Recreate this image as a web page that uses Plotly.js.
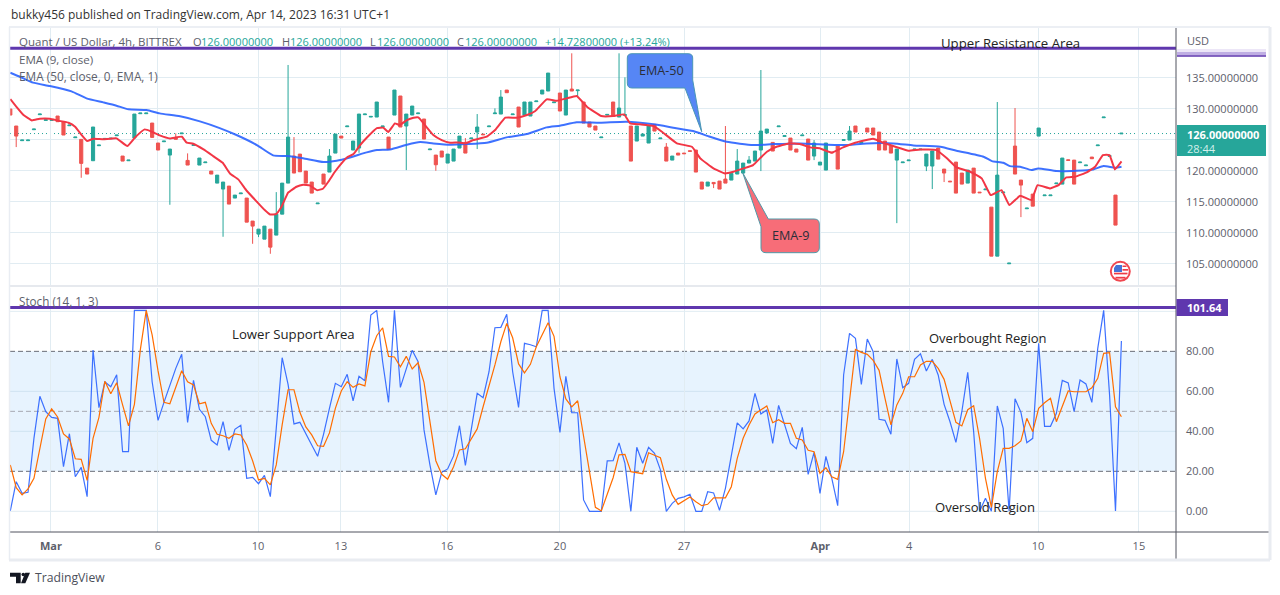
<!DOCTYPE html>
<html><head><meta charset="utf-8">
<script src="https://cdn.plot.ly/plotly-3.0.1.min.js"></script>
<style>html,body{margin:0;padding:0;background:#fff}#c{width:1280px;height:595px}</style>
</head><body><div id="c"></div>
<script>
const open=[129.95,127.21,124.85,124.85,126.62,129.04,128.12,128.12,128.82,127.91,
127.26,125.33,125.06,120.43,121.62,124.04,125.11,125.15,125.65,122.37,
121.62,125.27,129.2,129.2,127.69,124.47,124.68,122.53,125.38,125.97,
121.67,124.09,120.92,121.3,119.95,118.01,117.05,117.53,115.6,116.3,
115.6,111.89,109.79,108.98,110.59,109.63,113.01,118.01,122.37,122.69,
119.95,118.18,114.68,119.47,119.79,122.85,125.59,127.1,123.34,123.66,
129.04,128.66,128.66,127.1,125.43,128.98,132.05,127.21,128.98,129.2,
128.34,123.39,122.53,123.18,121.24,121.56,123.66,124.57,125.17,126.24,
125.91,127.1,129.2,129.14,133.01,129.04,130.27,128.98,128.82,131.14,
132.37,132.85,130.97,132.53,128.98,133.17,132.91,131.08,127.85,127.21,
125.33,128.98,131.08,128.66,128.93,127.21,124.79,125.59,124.47,127.48,
125.17,123.82,121.72,122.85,122.85,123.23,123.34,118.18,117.53,118.12,
118.34,118.66,118.5,119.47,119.63,121.24,121.56,123.34,126.08,124.57,
127.1,125.54,125.27,123.5,125.65,125.11,122.37,120.92,120.11,123.01,
123.98,124.9,124.95,127.21,124.47,126.89,126.89,126.24,124.79,123.98,
121.72,121.3,121.62,123.39,123.39,120.76,120.76,123.66,120.27,118.33,
121.4,119.63,118.01,120.43,116.56,116.94,114.14,106.24,116.46,105.01,
123.98,118.5,113.88,116.24,125.59,115.98,115.98,117.91,117.85,121.77,
121.72,121.3,120.81,122.21,124.04,128.55,122.32,116.08,125.95];
const close=[128.98,125.59,124.95,124.95,126.72,129.14,128.22,128.22,127.91,125.76,
127.36,125.43,121.19,119.47,127.05,124.14,125.21,125.25,125.75,121.56,
121.72,129.14,129.3,129.3,125.38,123.34,124.78,123.5,125.06,126.07,
120.92,124.19,122.05,121.4,119.47,119.3,118.18,114.63,116.08,116.4,
111.72,111.08,110.59,111.08,107.69,113.01,118.01,125.43,119.63,119.84,
118.01,116.4,114.78,117.85,122.37,125.92,125.27,127.2,124.79,129.14,
129.14,128.76,131.08,127.2,123.44,133.01,127.05,129.14,130.43,129.3,
125.11,123.49,120.97,122.21,122.69,123.5,125.59,122.85,125.27,127.05,
125.81,127.2,129.3,131.88,132.58,129.14,127.05,131.08,131.08,131.24,
133.01,135.75,131.07,129.63,133.01,132.85,133.01,127.69,127.05,126.56,
125.43,129.08,128.82,130.11,129.03,121.56,127.21,125.92,127.21,126.4,
125.27,121.56,122.37,122.53,122.75,123.13,119.79,117.05,118.18,117.91,
117.05,118.01,119.57,121.56,121.24,121.72,123.18,126.4,126.72,123.18,
127.2,125.64,123.34,123.01,125.75,121.72,124.47,121.4,124.47,122.91,
120.27,125,126.4,126.24,124.57,126.24,125.76,123.34,123.34,122.85,
123.5,121.4,121.72,123.49,123.49,122.69,123.18,121.88,119.63,118.23,
116.4,117.85,120.11,116.4,116.46,117.04,106.24,119.3,116.56,105.11,
119.47,117.69,113.98,114.3,126.89,116.08,116.08,118.01,122.05,121.67,
117.85,121.4,120.91,121.94,124.14,128.65,122.42,111.24,126.05];
const upperWicks={28:126.02,30:122.8,45:116.56,47:137.05,48:125.43,54:123.5,77:125.27,79:129.14,82:130.06,83:133.01,95:138.93,103:138.93,104:135.06,111:124.47,121:127.21,123:123.5,125:122.37,127:136.24,136:124.95,142:127.21,167:131.08,170:130.11};
const lowerWicks={1:123.82,12:118.87,27:114.52,36:109.36,41:108.23,42:109.31,44:106.62,59:122.9,67:120.11,72:120,79:123.5,96:132.05,119:117.21,127:119.95,136:121.72,150:111.56,155:119.95,156:117.05,158:118.18,171:112.53};

const ema9Slot=[0,1.1,2.2,3.6,4.9,6.6,8,9.7,10.8,11.9,12.8,13.8,15.5,17.7,19.5,20.8,22.4,23.6,24.9,26.6,28.6,29.4,30.5,32.2,33.8,35.4,36.6,38,39.4,41.1,42.4,43.3,44.3,45.2,46.3,47.7,48.8,49.9,51.1,52.1,53,54.1,55.2,56.1,57.2,58.3,59.4,61.1,62.2,63,64.1,64.9,66.1,67.2,68,69.1,70.5,71.9,73.3,74.7,75.8,77.2,79.4,80.8,82.5,84.4,86.1,87.5,89.4,91.1,92.7,94.4,96.1,98.5,100.5,102.3,103.3,104.95,107.2,108.6,111.1,113.6,115,117.2,119.1,120.5,122.2,123.8,124.95,126.1,127.7,129.7,131.6,133.3,135,136.9,138.8,140.8,143.8,145.5,147.5,149.7,151.6,154.4,156.1,157.7,160,161.9,163.4,165.2,166.5,168.3,170.2,171.2,173.3,174.7,176,177.5,179.4,180.8,182.1,183.2,184.1,185.2];
const ema9=[131.56,130.22,128.98,128.12,128.39,128.39,128.07,127.74,127.1,125.76,124.79,125.16,125.06,125.22,123.98,125.38,126.67,126.29,125.7,125.22,125.49,124.52,124.36,123.44,122.37,121.29,119.57,118.61,116.78,115,113.66,112.96,113.02,114.2,116.46,117.42,117.74,117.64,116.88,117.1,118.23,119.84,121.19,122.15,122.69,124.14,125.33,126.88,126.94,126.24,127.64,127.37,128.17,128.55,128.6,127.37,125.76,124.95,124.52,124.57,124.41,124.95,125.49,126.56,128.55,128.55,128.98,129.63,131.51,131.29,131.67,132.05,130.32,128.82,128.82,129.09,127.64,127.48,127.21,126.29,124.41,123.87,122,120.38,119.57,119.84,120.38,120.92,122,123.07,123.87,124.41,124.3,123.77,123.6,122.91,123.77,124.52,125.16,124.52,123.87,123.23,123.44,123.33,122,120.54,119.84,118.77,116.08,116.88,114.47,115.97,115.27,117.69,117.15,117.69,118.93,119.04,119.73,120.65,122.53,122.53,120.22,121.51];
const ema50Slot=[0,1.6,3.8,6.6,10.2,12.7,15.5,17.7,19.7,22.7,24.9,28.3,31.6,34.9,37.7,41.1,43.8,46.1,48.8,52.2,54.4,56.6,59.4,61.1,63.3,66.1,68.3,70.5,73.3,76.1,79.4,82.7,86.1,89.4,91.6,94.4,98.3,102.7,107.2,110.5,113.8,116.6,119.4,123.8,127.2,131.6,138.8,142.7,147.2,150.5,155,157.7,162.2,163.6,165.5,166.6,168.3,170.2,171.3,174.4,177.7,180.5,182.2,184.1,185.2];
const ema50=[135.81,135.16,134.2,133.66,132.8,131.67,131.02,130.49,129.9,129.79,129.25,128.77,127.96,126.88,125.76,124.14,122.48,122.37,122,121.4,121.62,122.15,122.96,123.34,123.44,124.2,124.63,124.41,124.2,124.3,124.52,125.38,125.92,126.99,127.26,127.8,127.74,127.91,127.48,126.94,126.4,125.49,124.68,124.14,124.3,124.41,124.14,124.41,124.41,124.09,123.87,123.23,122.26,121.56,121.29,120.75,120.65,120.11,120.38,119.95,120,120.22,120.76,120.49,120.65];

const stochK=[0.2,14.8,9,9.5,36.5,57.5,49.8,47,46.5,22.3,
38.8,17.3,22,7.3,80.7,51.8,64.8,62.3,68.3,29.8,
29.8,100.5,100.5,100.5,64.8,45.5,54.5,63.2,71.5,78.5,
44.5,65.5,51,47.3,35.5,33.2,44.8,30.5,41,43,
16.5,17,13.8,18,7.3,41.5,76.8,63.5,43.7,44.5,
38.5,33.2,27.5,38.5,51.5,64,62.3,68.5,55.2,67.5,
65.3,98.2,100.5,74.8,54.5,100.5,62,71.5,80.5,74.8,
40.7,23.2,8.2,19.5,21.2,27.7,42.8,23,41.5,59,
56.8,69.8,91.8,92,98.5,69.8,52,84,83.3,82.3,
100.5,100.5,61.5,39.5,67.5,49.3,49.3,5.7,0,0,
0,25.2,25.3,34.2,24,0,32,24,32,29,
20.7,0,4,6.5,7.2,8.5,0,0,9.8,9.2,
0.5,11.5,28.2,44.2,41.2,45.2,59,48.7,50.7,34,
53,44,34,31.3,42,18.5,29.5,9,27.5,16.5,
2.8,68.2,89,86.5,63.5,86.2,79.8,46,45.5,38.5,
76.2,61.8,64,76,78.8,70.2,76,68.2,53.5,44.8,
34.5,49.8,69.5,39.8,0,6.5,0,52.7,41.5,0,
56.3,49.5,34.3,36.5,84,42.5,42.5,49,65.5,64.2,
49.8,65.7,63.7,54.5,81.5,100.5,58.2,0.2,85.2];
const stochD=[23.2,11.8,8.2,11.2,16.5,31.5,46.2,51.2,47.2,38.7,
36.2,26.3,26,15.5,36.5,47,65,58.8,64.3,53.2,
42.7,53.5,80.7,100.5,88.2,70.2,54.5,53.8,62.2,70.3,
64.8,63.2,53.8,54.5,44,38.5,37.8,36.5,38.7,38.2,
33.2,25.3,15.7,16.5,13.2,23.2,43.2,60.8,60.8,49.5,
42.2,38.2,32.8,32.5,39.2,51.5,60.2,64.8,62,63.7,
62.7,79.8,87.8,91.8,77.5,77.2,72.3,77.5,71.2,74.3,
64.5,44,25.3,18.5,16,22.3,30.7,31.3,36.2,41.2,
52.3,62.3,73.2,84.8,94,86.8,73.7,69.2,73.5,82.3,
88.2,94.3,87.5,67.3,56.2,52.2,55.3,36.5,19.8,2,
0.2,8.5,16.8,28.2,28.5,19.8,19.3,18.8,29.3,28,
26.8,16,8.2,3.5,5.5,7.2,4.8,2.8,3.5,6.7,
6.7,6.7,12.3,26.5,36.5,43.2,48.7,50.7,52.7,44.3,
45.8,44,44,36.5,35.7,30.5,29.8,19,21.8,17.3,
16,29.8,54.8,81,79.5,78.5,75.5,70.5,56.5,43.2,
53.2,59,67.3,67.3,73.2,75,75,71.5,66,55.7,
44.5,42.7,50.8,52.8,36.5,16.5,2,19.8,31.5,31.5,
32.8,35.2,46.5,39.8,51.5,54.3,56.5,44.8,52.3,60.2,
59.8,59.8,59.8,61.8,66.5,79,79.3,52.3,47.3];

const dateSlots=[6.78,24.6,41.3,55.1,72.8,91.6,112.3,135,149.8,171.3,188.1];
const dateLabels=['<b>Mar</b>','6','10','13','16','20','27','<b>Apr</b>','4','10','15'];
const priceTicks=[105,110,115,120,125,130,135];
const priceLabels=['105.00000000','110.00000000','115.00000000','120.00000000','','130.00000000','135.00000000'];
const stochTicks=[0,20,40,60,80,100];
const stochLabels=['0.00','20.00','40.00','60.00','80.00',''];
const stochGridLevels=[0,40,60,100];
const lastPrice=126, resistance=139.73, stochLevel=101.9;

const barStep=0.985, xMin=-0.05, xMax=194.28;
const barX=open.map((_,i)=>i*barStep);
const high=open.map((o,i)=>Math.max(o,close[i],upperWicks[i]??-Infinity));
const low=open.map((o,i)=>Math.min(o,close[i],lowerWicks[i]??Infinity));

const FONT='"Open Sans", sans-serif';
const GREY='#5d606b', PURPLE='#5f37ae', GRID='#e1ecf2', TEAL='#26a69a';
const fx=p=>(p-10)/1166, fy=p=>(532-p)/504;

const data=[
 {type:'candlestick',x:barX,open,high,low,close,xaxis:'x',yaxis:'y',whiskerwidth:0,
  increasing:{line:{color:TEAL,width:1},fillcolor:TEAL},
  decreasing:{line:{color:'#ef5350',width:1},fillcolor:'#ef5350'},hoverinfo:'skip',showlegend:false},
 {type:'scatter',mode:'lines',x:ema50Slot,y:ema50,xaxis:'x',yaxis:'y',line:{color:'#2962ff',width:2,shape:'spline',smoothing:0.5},opacity:.9,hoverinfo:'skip',showlegend:false},
 {type:'scatter',mode:'lines',x:ema9Slot,y:ema9,xaxis:'x',yaxis:'y',line:{color:'#f23645',width:2,shape:'spline',smoothing:0.3},hoverinfo:'skip',showlegend:false},
 {type:'scatter',mode:'lines',x:barX,y:stochK,xaxis:'x',yaxis:'y2',line:{color:'#2962ff',width:1.2},opacity:.9,hoverinfo:'skip',showlegend:false},
 {type:'scatter',mode:'lines',x:barX,y:stochD,xaxis:'x',yaxis:'y2',line:{color:'#ff6d00',width:1.2},hoverinfo:'skip',showlegend:false}
];

const rectPx=(x0,y0,x1,y1,fill,extra={})=>Object.assign({type:'rect',xref:'paper',yref:'paper',x0:fx(x0),x1:fx(x1),y0:fy(y0),y1:fy(y1),fillcolor:fill,line:{width:0},layer:'above'},extra);
const linePx=(x0,y0,x1,y1,color,width)=>({type:'line',xref:'paper',yref:'paper',x0:fx(x0),x1:fx(x1),y0:fy(y0),y1:fy(y1),line:{color,width},layer:'above'});
const pathPx=(pts,fill,lineColor,w=1)=>({type:'path',xref:'paper',yref:'paper',
  path:pts.map(s=>{const c=s[0];if(c==='Z')return 'Z';return c+' '+s.slice(1).map((v,i)=>i%2?fy(v):fx(v)).join(' ');}).join(' '),
  fillcolor:fill,line:{color:lineColor,width:w},layer:'above'});
const circlePx=(cx,cy,r,fill,lineColor,w)=>({type:'circle',xref:'paper',yref:'paper',x0:fx(cx-r),x1:fx(cx+r),y0:fy(cy+r),y1:fy(cy-r),fillcolor:fill,line:{color:lineColor,width:w},layer:'above'});

const shapes=[
 {type:'rect',xref:'paper',yref:'y2',x0:0,x1:1,y0:20,y1:80,fillcolor:'rgba(33,150,243,0.11)',line:{width:0},layer:'below'},
 ...stochGridLevels.map(v=>({type:'line',xref:'x',yref:'y2',x0:xMin,x1:xMax,y0:v,y1:v,line:{color:v===0||v===100?GRID:'#cfe3f1',width:1},layer:'below'})),
 ...[[80,'#6a6d78'],[20,'#6a6d78'],[50,'#a6a9b2']].map(([v,c])=>({type:'line',xref:'x',yref:'y2',x0:xMin,x1:xMax,y0:v,y1:v,line:{color:c,width:1,dash:'5px,3px'},layer:'below'})),
 {type:'line',xref:'x',yref:'y',x0:xMin,x1:xMax,y0:lastPrice,y1:lastPrice,line:{color:TEAL,width:1,dash:'1px,3px'},layer:'below'},
 {type:'line',xref:'paper',yref:'y',x0:0,x1:1,y0:resistance,y1:resistance,line:{color:PURPLE,width:3},layer:'above'},
 {type:'line',xref:'paper',yref:'y2',x0:0,x1:1,y0:stochLevel,y1:stochLevel,line:{color:PURPLE,width:3},layer:'above'},
 linePx(10,286,1176,286,'#e6e9ee',2),
 linePx(9,27,1270,27,'#eceff4',2),
 linePx(10,532,1270,532,'#50535e',1),
 linePx(1176,28,1176,560,'#50535e',1),
 linePx(9.5,27,9.5,560,'#e9edf3',1.5),
 linePx(1270,27,1270,560,'#e9ecf1',3),
 linePx(9,560,1270,560,'#e9ecf1',3),
 rectPx(1177,49,1266,52,'#ece6f7'),
 rectPx(1177,52,1266,55.5,'#bfaee3'),
 linePx(1177,56,1266,56,PURPLE,1.5),
 rectPx(1177,125,1266,156,TEAL),
 rectPx(1176.5,299,1228,316,PURPLE),
 pathPx([['M',632,53.7],['L',688,53.7],['Q',692.7,53.7,692.7,58],['L',692.7,80],['L',701.7,131.7],['L',685,88],['L',632,88],['Q',627.3,88,627.3,83],['L',627.3,58],['Q',627.3,53.7,632,53.7],['Z']],'#5686f5','#4a97b5'),
 pathPx([['M',742.7,172.7],['L',768.3,219],['L',814,219],['Q',819.3,219,819.3,224],['L',819.3,248],['Q',819.3,252.7,814,252.7],['L',766,252.7],['Q',761,252.7,761,248],['L',761,226.7],['Z']],'#f76d78','#4f9aa8'),
 circlePx(1120.3,271.3,9.5,'#ffffff','#f0474f',2),
 rectPx(1122.5,265.5,1126.5,267,'#ef3b45'),
 rectPx(1122.5,269,1128,270.7,'#ef3b45'),
 rectPx(1114,272.7,1127.5,274.4,'#ef3b45'),
 rectPx(1115.5,276.8,1125.5,278.6,'#ef3b45'),
 pathPx([['M',1116,265],['L',1122,265],['L',1122,272],['L',1114,272],['L',1114,268],['Z']],'#4473d6','#4473d6',0),
 pathPx([['M',10,572.7],['L',20.7,572.7],['L',20.7,583.3],['L',16,583.3],['L',16,576.7],['L',10,576.7],['Z']],'#131722','#131722',0),
 circlePx(23.3,574.5,1.8,'#131722','#131722',0),
 pathPx([['M',25.3,572.7],['L',30,572.7],['L',25.3,583.3],['L',21,583.3],['Z']],'#131722','#131722',0)
];

const t=(px,py,text,size,color,extra={})=>Object.assign({xref:'paper',yref:'paper',x:fx(px),y:fy(py),text,showarrow:false,xanchor:'left',yanchor:'middle',borderpad:0,align:'left',font:{family:FONT,size,color}},extra);
const annotations=[
 t(10,14,'bukky456 published on TradingView.com, Apr 14, 2023 16:31 UTC+1',12,'#333'),
 t(18,41.5,'Quant / US Dollar, 4h, BITTREX',11.5,GREY),
 t(192,41.5,'O',11,GREY),t(200,41.5,'126.00000000',11,TEAL),
 t(281,41.5,'H',11,GREY),t(289,41.5,'126.00000000',11,TEAL),
 t(369,41.5,'L',11,GREY),t(376,41.5,'126.00000000',11,TEAL),
 t(456,41.5,'C',11,GREY),t(464,41.5,'126.00000000',11,TEAL),
 t(544,41.5,'+14.72800000 (+13.24%)',11,TEAL),
 t(18,59,'EMA (9, close)',11.6,GREY),
 t(18,76,'EMA (50, close, 0, EMA, 1)',11.8,GREY),
 t(18,301,'Stoch (14, 1, 3)',11.7,GREY),
 t(939.5,43,'Upper Resistance Area',13.2,'#222'),
 t(230.5,334,'Lower Support Area',13.2,'#222'),
 t(927.5,337.5,'Overbought Region',13,'#222'),
 t(933.5,506.5,'Oversold Region',13.1,'#222'),
 t(638,70.5,'EMA-50',12.6,'#2a2e39'),
 t(771,235,'EMA-9',12.6,'#2a2e39'),
 t(1186,40.5,'USD',11,GREY),
 t(1186,134,'<b>126.00000000</b>',11,'#ffffff'),
 t(1186,148,'28:44',11,'#d4f0ec'),
 t(1186,307.5,'<b>101.64</b>',11,'#ffffff'),
 t(33.5,577.5,'TradingView',12.2,'#4c4f5a')
];

const layout={
 width:1280,height:595,paper_bgcolor:'#fff',plot_bgcolor:'#fff',
 margin:{l:10,r:104,t:28,b:63,pad:0},showlegend:false,hovermode:false,boxgap:0.24,
 font:{family:FONT,size:11,color:GREY},
 xaxis:{domain:[0,1],anchor:'y2',range:[xMin,xMax],tickmode:'array',tickvals:dateSlots,ticktext:dateLabels,
  showgrid:true,gridcolor:GRID,gridwidth:1,zeroline:false,showline:false,ticks:'',ticklabelstandoff:6,rangeslider:{visible:false},
  tickfont:{family:FONT,size:11,color:GREY},fixedrange:true},
 yaxis:{domain:[0.488,1],range:[101.42,143.01],side:'right',anchor:'x',tickmode:'array',tickvals:priceTicks,ticktext:priceLabels,
  showgrid:true,gridcolor:GRID,gridwidth:1,zeroline:false,showline:false,ticks:'',ticklabelstandoff:9,
  tickfont:{family:FONT,size:11,color:GREY},fixedrange:true},
 yaxis2:{domain:[0,0.484],range:[-10.35,111.65],side:'right',anchor:'x',tickmode:'array',tickvals:stochTicks,ticktext:stochLabels,
  showgrid:false,zeroline:false,showline:false,ticks:'',ticklabelstandoff:9,
  tickfont:{family:FONT,size:11,color:GREY},fixedrange:true},
 shapes,annotations
};
Plotly.newPlot('c',data,layout,{displayModeBar:false,staticPlot:true});
</script></body></html>
